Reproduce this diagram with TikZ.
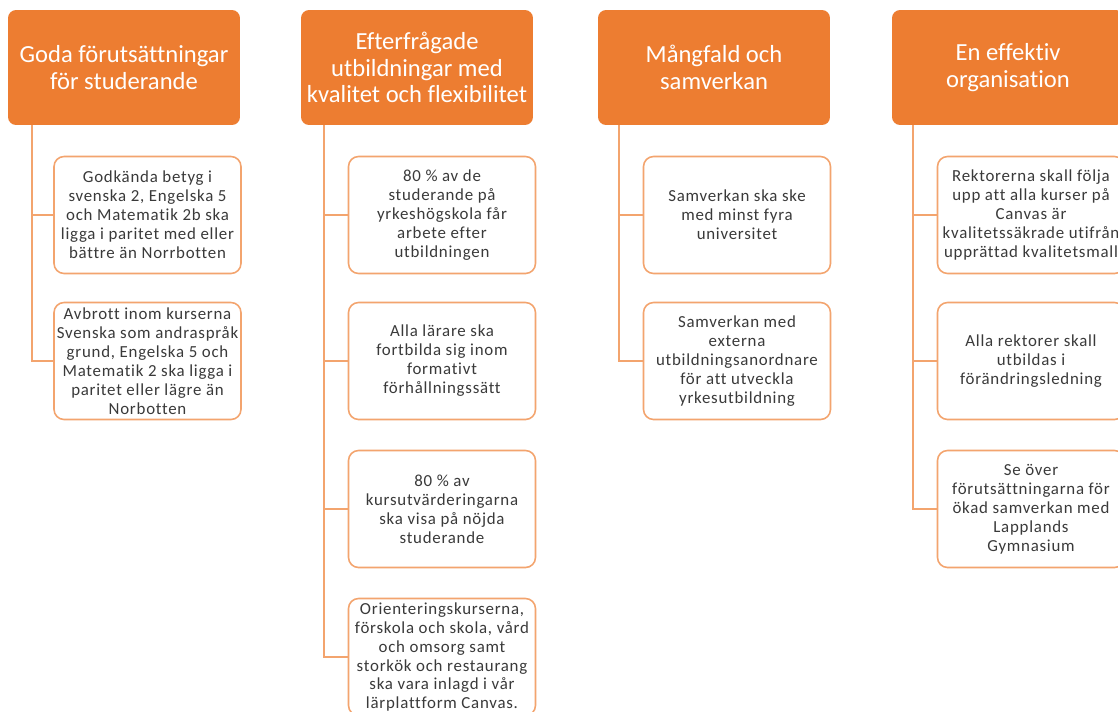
\documentclass[tikz,border=0pt]{standalone}
\usepackage{fontspec}
\setmainfont[Ligatures=NoCommon]{Carlito}
\newfontfamily\boxfont[LetterSpace=4.5,Ligatures=NoCommon]{Carlito}
\definecolor{accent}{HTML}{ED7D31}
\definecolor{rim}{HTML}{F3A46E}
\definecolor{ink}{HTML}{3A3A3A}
\tikzset{
  goal/.style={fill=accent, rounded corners=0.16cm, text=white, align=center,
    minimum width=4.64cm, minimum height=2.3cm, inner sep=2pt,
    font=\fontsize{14}{15.2}\selectfont},
  target/.style={draw=rim, line width=0.9pt, fill=white, rounded corners=0.2cm,
    text=ink, align=center, minimum width=3.74cm, minimum height=2.34cm, inner sep=1pt,
    font=\boxfont\fontsize{9.6}{10.8}\selectfont},
  link/.style={draw=rim, line width=1.1pt}
}
\begin{document}
\begin{tikzpicture}[x=0.02cm, y=-0.02cm]
\clip (0,0) rectangle (1118,711);
\fill[white] (0,0) rectangle (1118,711);

% top row
\node[goal] (t1) at (124,67.5) {Goda förutsättningar\\för studerande};
\node[goal] (t2) at (417,67.5) {Efterfrågade\\utbildningar med\\kvalitet och flexibilitet};
\node[goal] (t3) at (714,67.5) {Mångfald och\\samverkan};
\node[goal] (t4) at (1008,67.5) {En effektiv\\organisation};

% column 1
\node[target] (c11) at (147.5,215) {Godkända betyg i\\svenska 2, Engelska 5\\och Matematik 2b ska\\ligga i paritet med eller\\bättre än Norrbotten};
\node[target] (c12) at (147.5,361) {Avbrott inom kurserna\\Svenska som andraspråk\\grund, Engelska 5 och\\Matematik 2 ska ligga i\\paritet eller lägre än\\Norbotten};

% column 2
\node[target] (c21) at (442,215) {80 \% av de\\studerande på\\yrkeshögskola får\\arbete efter\\utbildningen};
\node[target] (c22) at (442,361) {Alla lärare ska\\fortbilda sig inom\\formativt\\förhållningssätt};
\node[target] (c23) at (442,509) {80 \% av\\kursutvärderingarna\\ska visa på nöjda\\studerande};
\node[target] (c24) at (442,657) {Orienteringskurserna,\\förskola och skola, vård\\och omsorg samt\\storkök och restaurang\\ska vara inlagd i vår\\lärplattform Canvas.};

% column 3
\node[target] (c31) at (737,215) {Samverkan ska ske\\med minst fyra\\universitet};
\node[target] (c32) at (737,361) {Samverkan med\\externa\\utbildningsanordnare\\för att utveckla\\yrkesutbildning};

% column 4
\node[target] (c41) at (1031,215) {Rektorerna skall följa\\upp att alla kurser på\\Canvas är\\kvalitetssäkrade utifrån\\upprättad kvalitetsmall};
\node[target] (c42) at (1031,361) {Alla rektorer skall\\utbildas i\\förändringsledning};
\node[target] (c43) at (1031,509) {Se över\\förutsättningarna för\\ökad samverkan med\\Lapplands\\Gymnasium};

% connectors
\foreach \c in {c11,c12}
  \draw[link] ([xshift=0.48cm]t1.south west) |- (\c.west);
\foreach \c in {c21,c22,c23,c24}
  \draw[link] ([xshift=0.46cm]t2.south west) |- (\c.west);
\foreach \c in {c31,c32}
  \draw[link] ([xshift=0.42cm]t3.south west) |- (\c.west);
\foreach \c in {c41,c42,c43}
  \draw[link] ([xshift=0.42cm]t4.south west) |- (\c.west);
\end{tikzpicture}
\end{document}
